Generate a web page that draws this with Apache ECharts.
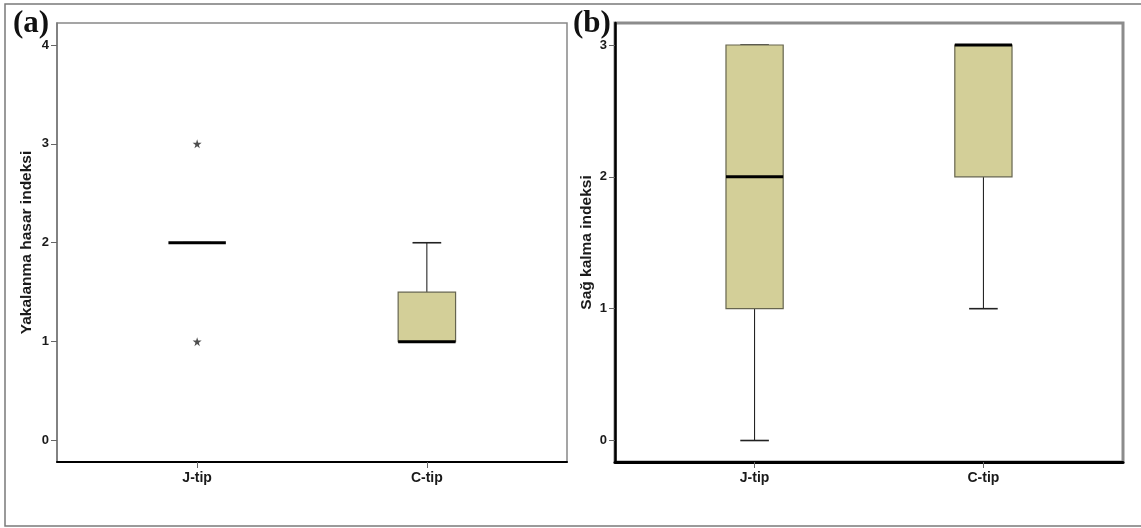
<!DOCTYPE html>
<html>
<head>
<meta charset="utf-8">
<script src="https://cdn.jsdelivr.net/npm/echarts@6/dist/echarts.min.js"></script>
<style>
  html, body { margin: 0; padding: 0; background: #fff; }
  #chart { width: 1141px; height: 528px; }
</style>
</head>
<body>
<div id="chart"></div>
<script>
// Groups shown along the horizontal axis of both panels
const categories = ['J-tip', 'C-tip'];

// Five-number summaries per group: [min, Q1, median, Q3, max]
const hasarSummary = [
  [2, 2, 2, 2, 2],
  [1, 1, 1, 1.5, 2]
];
// Extreme values (group index, value)
const hasarOutliers = [
  [0, 3],
  [0, 1]
];

const kalmaSummary = [
  [0, 1, 2, 3, 3],
  [1, 2, 3, 3, 3]
];

// Tick labels of the two value axes
const hasarTicks = [0, 1, 2, 3, 4];
const kalmaTicks = [0, 1, 2, 3];

const boxFill = '#D3CF98';
const boxWidthRatio = 0.25;

function boxRows(summary) {
  return summary.map((s, i) => [i].concat(s));
}

function renderBox(params, api) {
  const x = api.value(0);
  const vmin = api.value(1), q1 = api.value(2), med = api.value(3), q3 = api.value(4), vmax = api.value(5);
  const half = api.size([1, 0])[0] * boxWidthRatio / 2;
  const cx = api.coord([x, 0])[0];
  const yMin = api.coord([x, vmin])[1];
  const yQ1 = api.coord([x, q1])[1];
  const yMed = api.coord([x, med])[1];
  const yQ3 = api.coord([x, q3])[1];
  const yMax = api.coord([x, vmax])[1];
  const children = [];
  // whiskers
  children.push({ type: 'line', shape: { x1: cx, y1: yQ1, x2: cx, y2: yMin }, style: { stroke: '#111', lineWidth: 1 } });
  children.push({ type: 'line', shape: { x1: cx, y1: yQ3, x2: cx, y2: yMax }, style: { stroke: '#111', lineWidth: 1 } });
  // whisker caps
  children.push({ type: 'line', shape: { x1: cx - half / 2, y1: yMin, x2: cx + half / 2, y2: yMin }, style: { stroke: '#222', lineWidth: 1.6 } });
  children.push({ type: 'line', shape: { x1: cx - half / 2, y1: yMax, x2: cx + half / 2, y2: yMax }, style: { stroke: '#222', lineWidth: 1.6 } });
  // box
  if (yQ1 - yQ3 > 0.5) {
    children.push({ type: 'rect', shape: { x: cx - half, y: yQ3, width: half * 2, height: yQ1 - yQ3 }, style: { fill: boxFill, stroke: '#66654f', lineWidth: 1.2 } });
  }
  // median
  children.push({ type: 'line', shape: { x1: cx - half, y1: yMed, x2: cx + half, y2: yMed }, style: { stroke: '#000', lineWidth: 3 } });
  return { type: 'group', children: children };
}

const starPath = 'path://M50,0 L61,35 L98,35 L68,57 L79,91 L50,70 L21,91 L32,57 L2,35 L39,35 Z';

const sans = 'Liberation Sans, Arial, sans-serif';
const tickFont = { fontFamily: sans, fontSize: 13, fontWeight: 'bold', color: '#1a1a1a' };
const catFont = { fontFamily: sans, fontSize: 14, fontWeight: 'bold', color: '#1a1a1a' };
const nameFont = { fontFamily: sans, fontSize: 15.5, fontWeight: 'bold', color: '#1a1a1a' };

function xAxisDef(gridIndex, lineWidth) {
  return {
    type: 'value', gridIndex: gridIndex, min: -0.61, max: 1.61,
    axisLine: { show: true, onZero: false, lineStyle: { color: '#000', width: lineWidth } },
    axisTick: { show: true, length: 6, customValues: [0, 1], lineStyle: { color: '#666' } },
    axisLabel: Object.assign({ customValues: [0, 1], margin: 9, formatter: v => categories[Math.round(v)] }, catFont),
    splitLine: { show: false }
  };
}

function yAxisDef(gridIndex, min, max, ticks, name, lineColor, lineWidth, nameGap) {
  return {
    type: 'value', gridIndex: gridIndex, min: min, max: max,
    name: name, nameLocation: 'middle', nameRotate: 90, nameGap: nameGap,
    nameTextStyle: nameFont,
    axisLine: { show: true, onZero: false, lineStyle: { color: lineColor, width: lineWidth } },
    axisTick: { show: true, length: 6, customValues: ticks, lineStyle: { color: '#666' } },
    axisLabel: Object.assign({ customValues: ticks, margin: 8 }, tickFont),
    splitLine: { show: false }
  };
}

const chart = echarts.init(document.getElementById('chart'), null, { renderer: 'canvas' });

chart.setOption({
  backgroundColor: '#fff',
  animation: false,
  graphic: [
    { type: 'rect', x: 0, y: 0, shape: { x: 5, y: 4, width: 1145, height: 522 }, style: { fill: 'none', stroke: '#7a7a7a', lineWidth: 1.5 }, z: -1 },
    { type: 'text', x: 13, y: 8, style: { text: '(a)', font: 'bold 31px "Liberation Serif", "Times New Roman", serif', fill: '#111' } },
    { type: 'text', x: 573, y: 8, style: { text: '(b)', font: 'bold 31px "Liberation Serif", "Times New Roman", serif', fill: '#111' } }
  ],
  grid: [
    { left: 57, right: 574, top: 23, bottom: 66, show: true, borderColor: '#888', borderWidth: 1.5, backgroundColor: '#fff' },
    { left: 615, right: 18, top: 23, bottom: 66, show: true, borderColor: '#8c8c8c', borderWidth: 3, backgroundColor: '#fff' }
  ],
  xAxis: [xAxisDef(0, 2), xAxisDef(1, 3)],
  yAxis: [
    yAxisDef(0, -0.217, 4.222, hasarTicks, 'Yakalanma hasar indeksi', '#777', 1.5, 22),
    yAxisDef(1, -0.163, 3.167, kalmaTicks, 'Sağ kalma indeksi', '#000', 2.5, 20)
  ],
  series: [
    {
      type: 'custom', xAxisIndex: 0, yAxisIndex: 0,
      data: boxRows(hasarSummary),
      encode: { x: 0, y: [1, 2, 3, 4, 5] },
      renderItem: renderBox, z: 3
    },
    {
      type: 'scatter', xAxisIndex: 0, yAxisIndex: 0,
      data: hasarOutliers, symbol: starPath, symbolSize: 9,
      itemStyle: { color: '#222' }, z: 4
    },
    {
      type: 'custom', xAxisIndex: 1, yAxisIndex: 1,
      data: boxRows(kalmaSummary),
      encode: { x: 0, y: [1, 2, 3, 4, 5] },
      renderItem: renderBox, z: 3
    }
  ]
});
</script>
</body>
</html>
